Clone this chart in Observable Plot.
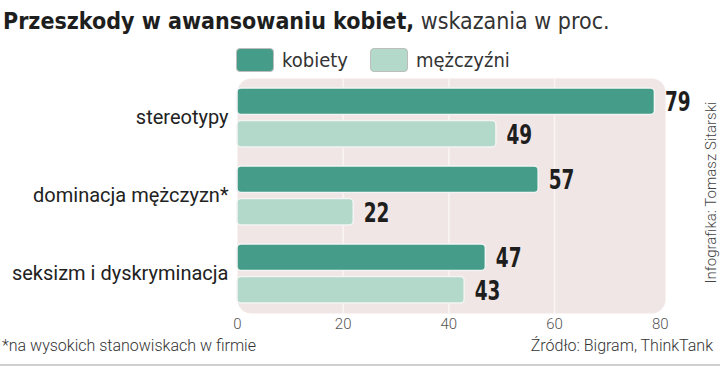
<!DOCTYPE html>
<html><head><meta charset="utf-8">
<script src="https://cdn.jsdelivr.net/npm/d3@7"></script>
<script src="https://cdn.jsdelivr.net/npm/@observablehq/plot@0.6"></script>
<style>
body{margin:0;background:#fff;}
#wrap{position:relative;width:720px;height:366px;overflow:hidden;background:#fff;font-family:"DejaVu Sans Condensed","Liberation Sans Narrow",sans-serif;}
#title{position:absolute;left:3px;top:8px;font-size:23px;color:#1e1e1e;white-space:nowrap;}
#title b{font-weight:700;}
#title span{font-weight:300;color:#333;}
#legend{position:absolute;left:236px;top:48px;display:flex;align-items:center;font-size:20px;color:#333;white-space:nowrap;}
.sw{width:38px;height:24px;border-radius:4px;border:1.5px solid #bdbdbd;box-sizing:border-box;margin-right:8px;}
#plot{position:absolute;left:0;top:70px;}
#foot{position:absolute;left:2px;top:336px;font-family:Roboto,sans-serif;font-weight:300;font-size:16px;color:#333;white-space:nowrap;}
#src{position:absolute;right:7px;top:336px;font-family:Roboto,sans-serif;font-weight:300;font-size:16px;color:#333;white-space:nowrap;}
#credit{position:absolute;left:703px;top:290px;transform-origin:0 0;transform:rotate(-90deg);width:195px;height:17px;line-height:17px;font-family:Roboto,sans-serif;font-weight:300;font-size:15px;color:#444;white-space:nowrap;text-align:center;}
#bottom{position:absolute;left:0;right:0;bottom:0;height:2px;background:#cfcfcf;}
</style></head>
<body><div id="wrap">
<div id="title"><b>Przeszkody w awansowaniu kobiet,</b> <span>wskazania w proc.</span></div>
<div id="legend"></div>
<div id="plot"></div>
<div id="foot">*na wysokich stanowiskach w firmie</div>
<div id="src">Źródło: Bigram, ThinkTank</div>
<div id="credit">Infografika: Tomasz Sitarski</div>
<div id="bottom"></div>
</div>
<script>
const categories = ["stereotypy", "dominacja mężczyzn*", "seksizm i dyskryminacja"];
const kobiety = [79, 57, 47];
const mezczyzni = [49, 22, 43];
const seriesNames = ["kobiety", "mężczyźni"];
const seriesColors = ["#459d89", "#b3d9cb"];
const xTicks = [0, 20, 40, 60, 80];
const gridTicks = [20, 40, 60];

const dataK = categories.map((c, i) => ({cat: c, value: kobiety[i]}));
const dataM = categories.map((c, i) => ({cat: c, value: mezczyzni[i]}));

const leg = document.getElementById("legend");
seriesNames.forEach((s, i) => {
  const sw = document.createElement("div");
  sw.className = "sw"; sw.style.background = seriesColors[i];
  const t = document.createElement("span");
  t.textContent = s; t.style.marginRight = "22px";
  leg.appendChild(sw); leg.appendChild(t);
});

const labFont = "DejaVu Sans Condensed, Liberation Sans Narrow, sans-serif";
const chart = Plot.plot({
  width: 720,
  height: 270,
  marginLeft: 237,
  marginRight: 55,
  marginTop: 8,
  marginBottom: 27,
  style: {fontFamily: "Roboto, sans-serif", background: "transparent", color: "#222"},
  x: {domain: [0, 81], ticks: xTicks, label: null},
  y: {domain: categories, paddingInner: 0.25, paddingOuter: 0.12, label: null},
  marks: [
    Plot.frame({fill: "#f1e6e6", stroke: null, rx: 14}),
    Plot.ruleX(gridTicks, {stroke: "#faf5f5", strokeWidth: 1.5}),
    Plot.barX(dataK, {x: "value", y: "cat", fill: seriesColors[0], stroke: "#f4f4f4", strokeWidth: 1.5, rx: 4, insetBottom: 32.5, insetTop: 0}),
    Plot.barX(dataM, {x: "value", y: "cat", fill: seriesColors[1], stroke: "#f4f4f4", strokeWidth: 1.5, rx: 4, insetTop: 32.5, insetBottom: 0}),
    Plot.text(dataK, {x: "value", y: "cat", text: d => String(d.value), dx: 10, dy: -16, textAnchor: "start", lineAnchor: "middle", fontSize: 27, fontWeight: 700, fontFamily: labFont, fill: "#1e1e1e", className: "vlab"}),
    Plot.text(dataM, {x: "value", y: "cat", text: d => String(d.value), dx: 10, dy: 17, textAnchor: "start", lineAnchor: "middle", fontSize: 27, fontWeight: 700, fontFamily: labFont, fill: "#1e1e1e", className: "vlab"}),
    Plot.axisY({tickSize: 0, tickPadding: 9, fontSize: 20, fill: "#222", label: null}),
    Plot.axisX({ticks: xTicks, tickSize: 0, tickPadding: 5, fontSize: 15, fontWeight: 300, fill: "#555", label: null})
  ]
});
chart.querySelectorAll(".vlab text").forEach(t => {
  const tr = t.getAttribute("transform") || "";
  t.setAttribute("transform", tr + " scale(0.76,1)");
});
document.getElementById("plot").appendChild(chart);
</script>
</body></html>
